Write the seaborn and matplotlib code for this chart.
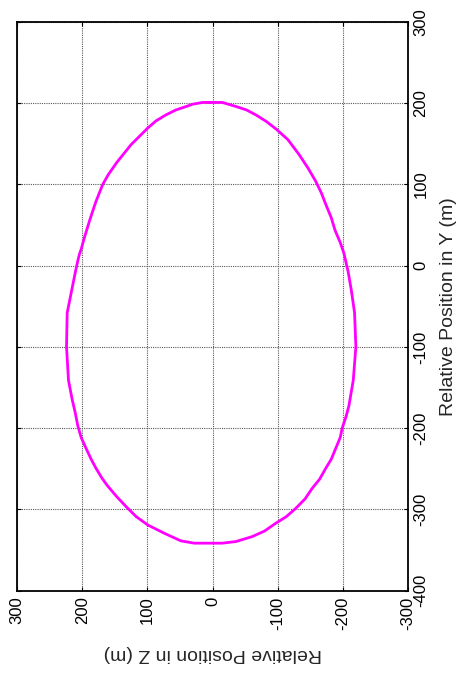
import matplotlib
matplotlib.use("Agg")
import matplotlib.pyplot as plt
import seaborn as sns
import pandas as pd

# Relative trajectory (cross-track Z vs. along-track Y), traced point by point
rel_z_m = [5, -15, -36, -52, -66.5, -82.7, -98, -115.8, -133, -146.4, -158,
           -166.9, -173.6, -182.2, -188, -196, -201.6, -208, -213, -218,
           -220, -216, -209.3, -205.2, -199, -196, -189, -182.2, -173.6,
           -164.3, -153, -142, -127.7, -113, -97, -80, -61.3, -36, -15,
           5, 28, 48.4, 74, 99.5, 117.3, 132.6, 147.9, 161.5, 170, 178.6,
           186.2, 193.9, 201.5, 206.7, 210.7, 215.5, 221, 224, 223, 216, 210,
           206.7, 204.2, 201.5, 196.5, 188.8, 183.8, 178.6, 168.5, 160, 147,
           135.2, 125, 112.3, 99.5, 86.7, 71.4, 56, 40.7, 30.6, 15, 5]
rel_y_m = [201, 201, 196, 191.8, 185.7, 177.5, 168, 155.1, 136.7, 120.4,
           104.5, 89.8, 76, 59.2, 43.7, 28.6, 15.5, -6.8, -30, -58, -100,
           -141, -172.5, -184.9, -200, -211.5, -225, -238.2, -249.6, -262.8,
           -274, -287, -298.7, -309, -317, -326.5, -333.3, -339.5, -341.5,
           -341.5, -341.5, -338.7, -329.3, -319, -308.7, -296.5, -283.4,
           -270.5, -261, -249.6, -238.2, -225, -211.5, -197, -180.7, -164,
           -141, -100, -58, -30, -6, 6.1, 14.3, 20.4, 34.9, 55.1, 67.3, 79.6,
           100, 112, 127, 138.8, 149, 159.1, 169.4, 178.3, 185.7, 191.8,
           195.9, 198.8, 201, 201]

z_ticks = [300, 200, 100, 0, -100, -200, -300]
y_ticks = [-400, -300, -200, -100, 0, 100, 200, 300]

sns.set_style("white")
plt.rcParams["font.family"] = ["Liberation Sans", "DejaVu Sans"]

df = pd.DataFrame({"z": rel_z_m, "y": rel_y_m})

fig = plt.figure(figsize=(4.62, 6.75), dpi=100)
ax = fig.add_axes([17 / 462, 84.3 / 675, 391 / 462, 568.7 / 675])

sns.lineplot(data=df, x="z", y="y", sort=False, estimator=None,
             color="#ff00ff", linewidth=2.0, ax=ax, zorder=3,
             solid_joinstyle="round", solid_capstyle="round")

ax.set_xlim(300, -300)
ax.set_ylim(-400, 300)
ax.set_xticks(z_ticks)
ax.set_yticks(y_ticks)
ax.set_xticklabels([str(v) for v in z_ticks])
ax.set_yticklabels([str(v) for v in y_ticks])

ax.grid(True, color="0.35", linestyle=(0, (1, 1)), linewidth=0.8, zorder=0)
ax.set_axisbelow(True)

for sp in ax.spines.values():
    sp.set_visible(True)
    sp.set_color("black")
    sp.set_linewidth(1.3)

ax.tick_params(direction="in", length=3, width=0.8, color="black",
               top=True, bottom=True, left=True, right=True,
               labelleft=False, labelright=True, labelsize=12,
               labelcolor="black", pad=4)
ax.tick_params(axis="x", labelrotation=90)
ax.tick_params(axis="y", labelrotation=90)
for lbl in ax.get_xticklabels():
    lbl.set_ha("center")
    lbl.set_va("top")
for lbl in ax.get_yticklabels():
    lbl.set_ha("left")
    lbl.set_va("center")

ax.yaxis.set_label_position("right")
ax.set_ylabel("Relative Position in Y (m)", fontsize=14, rotation=90,
              labelpad=8)
ax.set_xlabel("Relative Position in Z (m)", fontsize=14, rotation=180,
              labelpad=11)

fig.savefig("out.png", dpi=100, facecolor="white")
